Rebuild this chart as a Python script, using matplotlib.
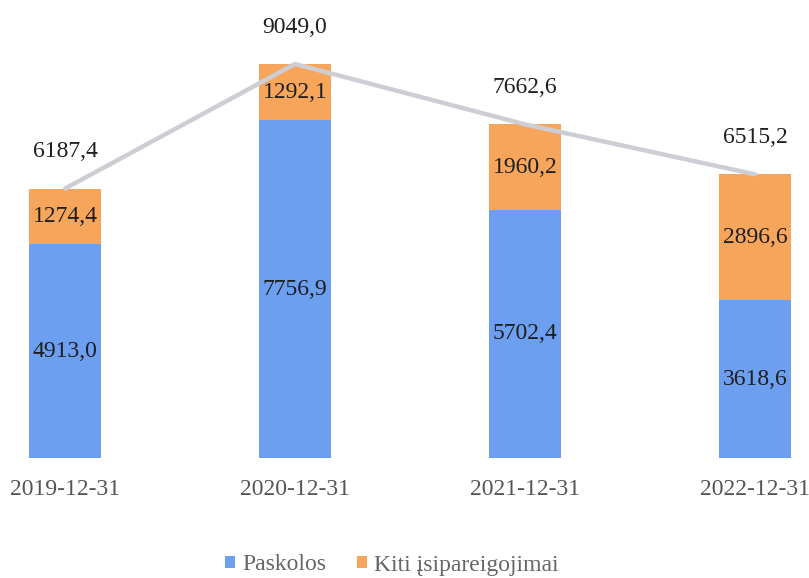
import matplotlib
matplotlib.use("Agg")
import matplotlib.pyplot as plt
import numpy as np

categories = ["2019-12-31", "2020-12-31", "2021-12-31", "2022-12-31"]
paskolos = [4913.0, 7756.9, 5702.4, 3618.6]
kiti = [1274.4, 1292.1, 1960.2, 2896.6]
totals = [6187.4, 9049.0, 7662.6, 6515.2]

def fmt(v):
    return f"{v:.1f}".replace(".", ",")

plt.rcParams['font.family'] = ['Liberation Serif', 'DejaVu Serif']

fig = plt.figure(figsize=(8.09, 5.78), dpi=100)
ax = fig.add_axes([0, 120/578, 1, 448/578])

blue = "#6d9ff1"
orange = "#f7a55b"
fs = 17
x = np.arange(len(categories))
w = 0.31
ax.bar(x, paskolos, w, color=blue, label="Paskolos", zorder=2)
ax.bar(x, kiti, w, bottom=paskolos, color=orange, label="Kiti \u012fsipareigojimai", zorder=2)
ax.plot(x, totals, color="#cdced4", lw=3.2, zorder=3, solid_capstyle="round")

for i in range(len(x)):
    ax.text(x[i], paskolos[i] / 2, fmt(paskolos[i]), ha="center", va="center",
            fontsize=fs, color="#1f1f1f", zorder=4)
    ax.text(x[i], paskolos[i] + kiti[i] / 2, fmt(kiti[i]), ha="center", va="center",
            fontsize=fs, color="#1f1f1f", zorder=4)
    ax.annotate(fmt(totals[i]), (x[i], totals[i]), xytext=(0, 37), textcoords="offset pixels",
                ha="center", va="center", fontsize=fs, color="#1f1f1f")

ax.set_xlim(-65/230, (809-65)/230)
ax.set_ylim(0, 448/0.04354)
ax.set_xticks(x)
ax.set_xticklabels(categories, fontsize=fs, color="#555555")
ax.tick_params(axis="x", length=0, pad=15)
ax.set_yticks([])
for s in ax.spines.values():
    s.set_visible(False)

fig.legend(loc="center", bbox_to_anchor=(392/809, 1 - 565/578), ncol=2, frameon=False,
           fontsize=fs, handlelength=0.42, handleheight=0.42, handletextpad=0.3,
           columnspacing=1.3, labelcolor="#666666")

fig.savefig("out.png", dpi=100)
